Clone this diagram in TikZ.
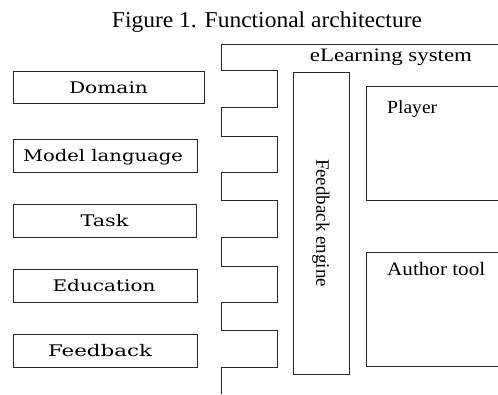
\documentclass[tikz,border=0pt]{standalone}
\usepackage{fontspec}
\usepackage{graphicx}
\setmainfont{Liberation Serif}
\newfontfamily\lblfont{DejaVu Serif}
\newcommand\fitw[2]{\resizebox{#1}{\height}{#2}}
\begin{document}
\begin{tikzpicture}[x=1pt,y=-1pt,
  line/.style={draw=black!85,line width=0.8pt},
  lbox/.style={line,rectangle,inner sep=0pt,minimum width=184pt,minimum height=33pt,
    text height=12pt,text depth=0pt,font=\lblfont\fontsize{16}{18}\selectfont},
  ttl/.style={inner sep=0pt,anchor=base}]
\useasboundingbox (0,0) rectangle (498,394);
% title
\node[ttl,font=\fontsize{22.7}{25}\selectfont] (title) at (267,27) {\fitw{310pt}{Figure 1. Functional architecture}};
% left boxes
\node[lbox,minimum width=191pt,minimum height=32pt] (domain) at (108.5,87) {\fitw{79pt}{Domain}};
\node[lbox] (model) at (105,155.5) {\fitw{160pt}{Model language}\hspace*{4pt}};
\node[lbox,minimum width=183pt] (task) at (104.5,220.5) {\fitw{48pt}{Task}};
\node[lbox] (education) at (105,285.5) {\fitw{103pt}{Education}\hspace*{2pt}};
\node[lbox] (feedback) at (105,350.5) {\fitw{104pt}{Feedback}\hspace*{10pt}};
% eLearning system comb frame
\coordinate (sysTR) at (498,44);
\draw[line] (sysTR) -- (221,44) -- (221,70) -- (277,70) -- (277,107) -- (221,107)
  -- (221,136) -- (277,136) -- (277,172) -- (221,172)
  -- (221,200) -- (277,200) -- (277,237) -- (221,237)
  -- (221,266) -- (277,266) -- (277,302) -- (221,302)
  -- (221,330) -- (277,330) -- (277,367) -- (221,367) -- (221,394);
\node[ttl,font=\fontsize{19}{21}\selectfont] (sys) at (391,61) {\fitw{162pt}{eLearning system}};
% feedback engine
\node[line,rectangle,inner sep=0pt,minimum width=56pt,minimum height=302pt] (engine) at (321,223) {};
\node[rotate=-90,inner sep=0pt,font=\fontsize{19}{21}\selectfont] (enginelbl) at (engine.center) {\fitw{128pt}{Feedback engine}};
% player
\draw[line] (498,86) -- (366,86) -- (366,200) -- (498,200);
\node[ttl,anchor=base west,font=\fontsize{18.5}{21}\selectfont] (player) at (387,113) {\fitw{50pt}{Player}};
% author tool
\draw[line] (498,252) -- (366,252) -- (366,366) -- (498,366);
\node[ttl,anchor=base west,font=\fontsize{19}{21}\selectfont] (author) at (387,275) {\fitw{98pt}{Author tool}};
\end{tikzpicture}
\end{document}
